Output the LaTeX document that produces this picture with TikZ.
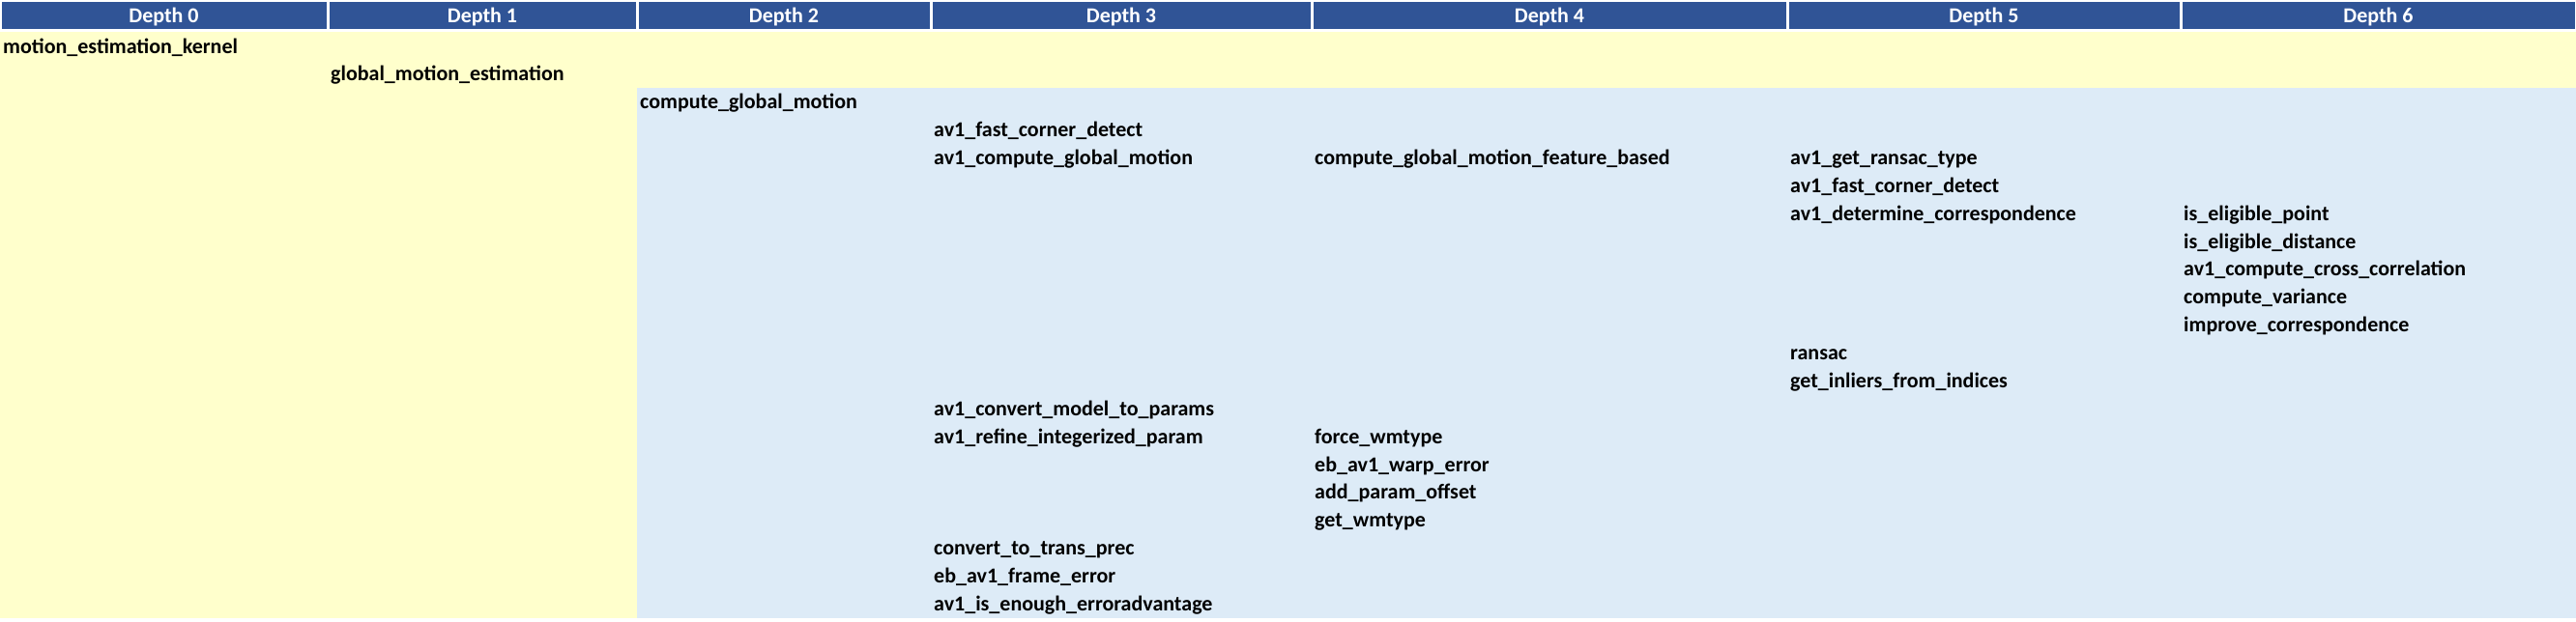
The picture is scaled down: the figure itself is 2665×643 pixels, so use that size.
\documentclass[tikz,border=0pt]{standalone}
\usepackage{fontspec}
\setmainfont{Carlito}
\definecolor{hdr}{HTML}{305496}
\definecolor{yel}{HTML}{FFFFCC}
\definecolor{lblue}{HTML}{DDEBF7}
\begin{document}
\begin{tikzpicture}[x=1pt,y=-1pt,
  hdrcell/.style={fill=hdr,draw=none},
  hdrtext/.style={anchor=base,inner sep=0pt,text=white,font=\bfseries\fontsize{22}{26}\selectfont},
  item/.style={anchor=base west,inner sep=0pt,font=\bfseries\fontsize{22}{26}\selectfont}]
\useasboundingbox (0,0) rectangle (2665,643);
\fill[white] (0,0) rectangle (2665,643);
% header
\foreach \a/\b/\t [count=\i from 0] in {0/339/Depth 0,339/659/Depth 1,659/963/Depth 2,963/1357/Depth 3,1357/1849/Depth 4,1849/2256/Depth 5,2256/2665/Depth 6}{
  \fill[hdrcell] ({\a+1.5},2) rectangle ({\b-1.5},30);
  \node[hdrtext] (h\i) at ({(\a+\b)/2},23.5) {\t};
}
% body
\fill[yel] (0,33) rectangle (2665,640);
\fill[lblue] (659,{33+2*28.87}) rectangle (2665,640);
% items
\foreach \r/\c/\t/\n in {
 0/0/motion\_estimation\_kernel/a0,
 1/339/global\_motion\_estimation/a1,
 2/659/compute\_global\_motion/a2,
 3/963/av1\_fast\_corner\_detect/a3,
 4/963/av1\_compute\_global\_motion/a4,
 4/1357/compute\_global\_motion\_feature\_based/b4,
 4/1849/av1\_get\_ransac\_type/c4,
 5/1849/av1\_fast\_corner\_detect/a5,
 6/1849/av1\_determine\_correspondence/a6,
 6/2256/is\_eligible\_point/b6,
 7/2256/is\_eligible\_distance/a7,
 8/2256/av1\_compute\_cross\_correlation/a8,
 9/2256/compute\_variance/a9,
 10/2256/improve\_correspondence/a10,
 11/1849/ransac/a11,
 12/1849/get\_inliers\_from\_indices/a12,
 13/963/av1\_convert\_model\_to\_params/a13,
 14/963/av1\_refine\_integerized\_param/a14,
 14/1357/force\_wmtype/b14,
 15/1357/eb\_av1\_warp\_error/a15,
 16/1357/add\_param\_offset/a16,
 17/1357/get\_wmtype/a17,
 18/963/convert\_to\_trans\_prec/a18,
 19/963/eb\_av1\_frame\_error/a19,
 20/963/av1\_is\_enough\_erroradvantage/a20}{
  \node[item] (\n) at ({\c+3},{33+\r*28.87+22}) {\t};
}
\end{tikzpicture}
\end{document}
